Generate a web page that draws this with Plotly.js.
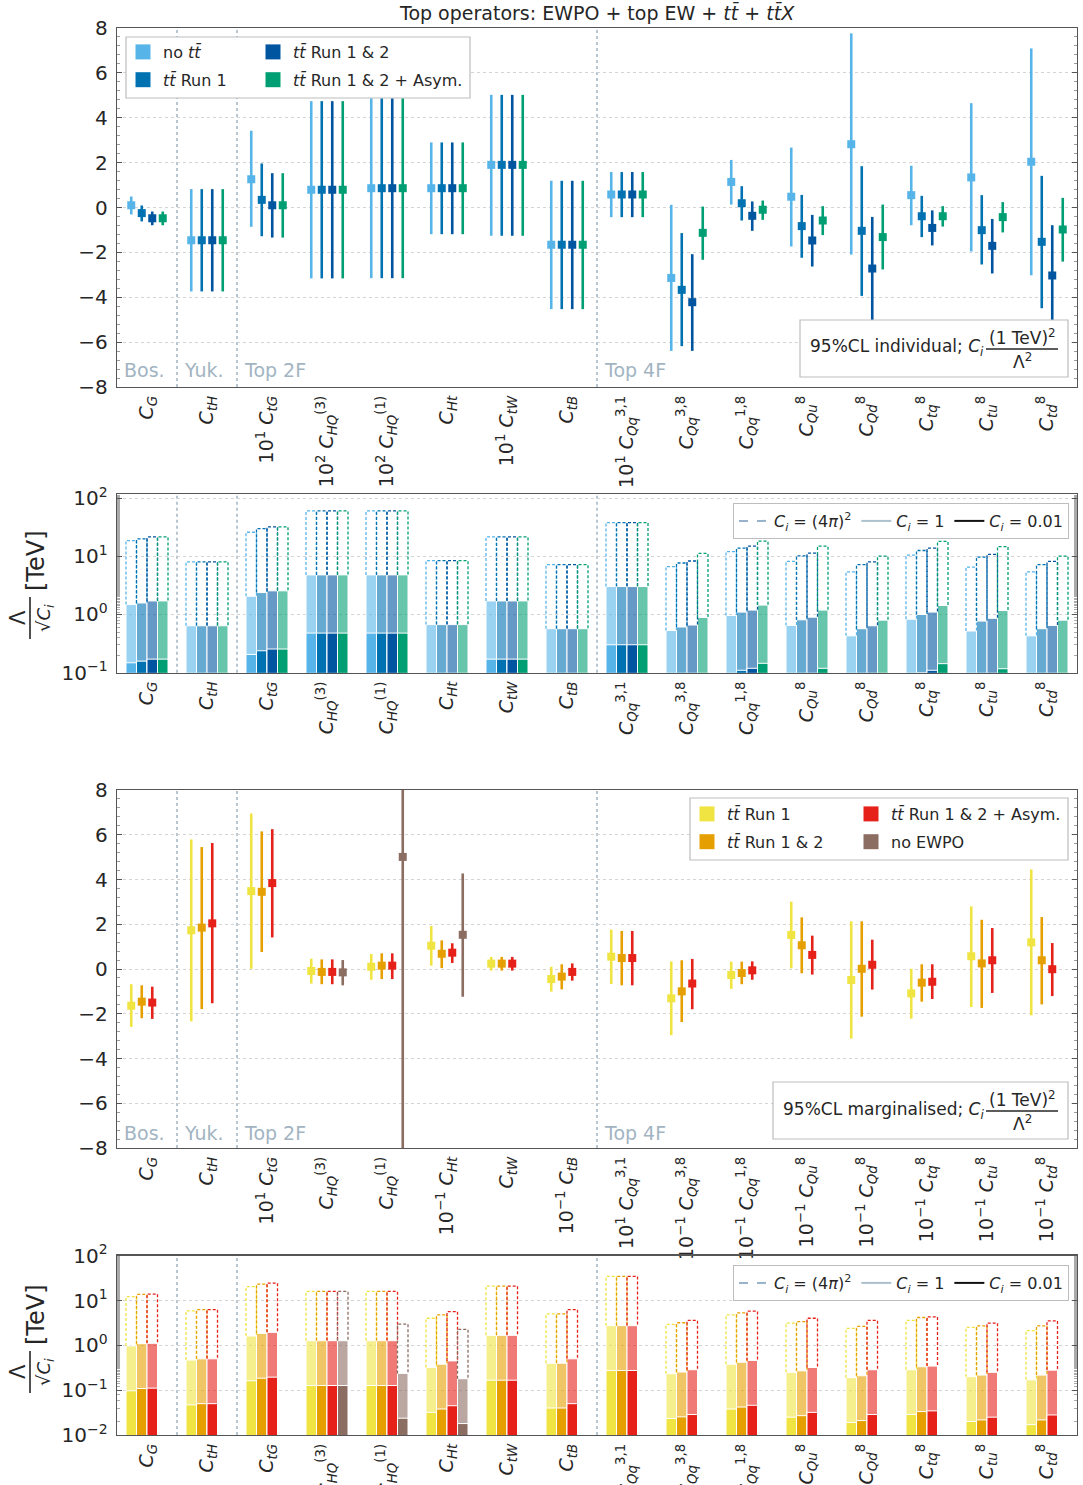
<!DOCTYPE html>
<html><head><meta charset="utf-8">
<script src="https://cdn.plot.ly/plotly-3.0.1.min.js"></script>
<style>html,body{margin:0;padding:0;background:#fff}</style>
</head><body><div id="chart" style="width:1083px;height:1485px"></div>
<script>
// ---------------- categories / tick labels ----------------
const ops = ['C_G','C_tH','C_tG','C_HQ3','C_HQ1','C_Ht','C_tW','C_tB','C_Qq31','C_Qq38','C_Qq18','C_Qu8','C_Qd8','C_tq8','C_tu8','C_td8'];
const baseLabels = [
  '<i>C</i><sub><i>G</i></sub>', '<i>C</i><sub><i>tH</i></sub>', '<i>C</i><sub><i>tG</i></sub>',
  '<i>C</i><sub><i>HQ</i></sub><sup>(3)</sup>', '<i>C</i><sub><i>HQ</i></sub><sup>(1)</sup>',
  '<i>C</i><sub><i>Ht</i></sub>', '<i>C</i><sub><i>tW</i></sub>', '<i>C</i><sub><i>tB</i></sub>',
  '<i>C</i><sub><i>Qq</i></sub><sup>3,1</sup>', '<i>C</i><sub><i>Qq</i></sub><sup>3,8</sup>',
  '<i>C</i><sub><i>Qq</i></sub><sup>1,8</sup>', '<i>C</i><sub><i>Qu</i></sub><sup>8</sup>',
  '<i>C</i><sub><i>Qd</i></sub><sup>8</sup>', '<i>C</i><sub><i>tq</i></sub><sup>8</sup>',
  '<i>C</i><sub><i>tu</i></sub><sup>8</sup>', '<i>C</i><sub><i>td</i></sub><sup>8</sup>'];
const prefixTop = ['', '', '10<sup>1</sup> ', '10<sup>2</sup> ', '10<sup>2</sup> ', '', '10<sup>1</sup> ', '', '10<sup>1</sup> ', '', '', '', '', '', '', ''];
const prefixMarg = ['', '', '10<sup>1</sup> ', '', '', '10<sup>−1</sup> ', '', '10<sup>−1</sup> ', '10<sup>1</sup> ', '10<sup>−1</sup> ', '10<sup>−1</sup> ', '10<sup>−1</sup> ', '10<sup>−1</sup> ', '10<sup>−1</sup> ', '10<sup>−1</sup> ', '10<sup>−1</sup> '];
const sectorNames = ['Bos.', 'Yuk.', 'Top 2F', 'Top 4F'];
const sectorStart = [0, 1, 2, 8];
const sectorBounds = [0.5, 1.5, 7.5];

// ---------------- panel 1: individual 95% CL ----------------
const indNoTtC  = [0.10, -1.46, 1.26, 0.79, 0.86, 0.86, 1.90, -1.66, 0.58, -3.14, 1.14, 0.48, 2.82, 0.55, 1.34, 2.04];
const indNoTtLo = [-0.31, -3.74, -0.86, -3.16, -3.15, -1.19, -1.26, -4.53, -0.43, -6.39, 0.13, -1.74, -2.10, -0.79, -1.96, -3.02];
const indNoTtHi = [0.49, 0.82, 3.42, 4.74, 4.87, 2.90, 5.02, 1.19, 1.58, 0.12, 2.12, 2.67, 7.76, 1.86, 4.65, 7.09];
const indRun1C  = [-0.25, -1.46, 0.34, 0.79, 0.86, 0.86, 1.90, -1.66, 0.58, -3.67, 0.19, -0.83, -1.04, -0.39, -1.01, -1.53];
const indRun1Lo = [-0.62, -3.74, -1.28, -3.16, -3.15, -1.19, -1.26, -4.53, -0.43, -6.18, -0.58, -2.24, -3.94, -1.32, -2.54, -4.49];
const indRun1Hi = [0.09, 0.82, 1.96, 4.74, 4.87, 2.90, 5.02, 1.19, 1.58, -1.14, 0.95, 0.56, 1.84, 0.52, 0.55, 1.41];
const indRun12C  = [-0.48, -1.46, 0.10, 0.79, 0.86, 0.86, 1.90, -1.66, 0.58, -4.22, -0.37, -1.47, -2.72, -0.91, -1.71, -3.03];
const indRun12Lo = [-0.79, -3.74, -1.34, -3.16, -3.15, -1.19, -1.26, -4.53, -0.43, -6.39, -1.04, -2.63, -5.02, -1.69, -2.94, -5.27];
const indRun12Hi = [-0.18, 0.82, 1.53, 4.74, 4.87, 2.90, 5.02, 1.19, 1.58, -2.08, 0.27, -0.33, -0.42, -0.13, -0.51, -0.79];
const indAsymC  = [-0.48, -1.46, 0.10, 0.79, 0.86, 0.86, 1.90, -1.66, 0.58, -1.13, -0.10, -0.58, -1.32, -0.39, -0.43, -0.98];
const indAsymLo = [-0.79, -3.74, -1.34, -3.16, -3.15, -1.19, -1.26, -4.53, -0.43, -2.33, -0.55, -1.23, -2.76, -0.85, -1.11, -2.41];
const indAsymHi = [-0.18, 0.82, 1.53, 4.74, 4.87, 2.90, 5.02, 1.19, 1.58, 0.04, 0.31, 0.06, 0.13, 0.06, 0.24, 0.43];

// ---------------- panel 2: individual scale, Lambda/sqrt(C) for C_i = 1 (TeV) ----------------
const scaleIndNoTt  = [1.48, 0.64, 2.06, 4.79, 4.79, 0.67, 1.71, 0.57, 3.02, 0.53, 0.96, 0.65, 0.43, 0.83, 0.52, 0.43];
const scaleIndRun1  = [1.58, 0.64, 2.38, 4.79, 4.79, 0.67, 1.71, 0.57, 3.02, 0.61, 1.10, 0.81, 0.57, 1.00, 0.77, 0.57];
const scaleIndRun12 = [1.71, 0.64, 2.55, 4.79, 4.79, 0.67, 1.71, 0.57, 3.02, 0.66, 1.19, 0.90, 0.64, 1.10, 0.86, 0.65];
const scaleIndAsym  = [1.71, 0.64, 2.55, 4.79, 4.79, 0.67, 1.71, 0.57, 3.02, 0.89, 1.45, 1.19, 0.80, 1.43, 1.17, 0.80];

// ---------------- panel 3: marginalised 95% CL ----------------
const marRun1C  = [-1.64, 1.73, 3.48, -0.09, 0.10, 1.04, 0.24, -0.45, 0.55, -1.31, -0.27, 1.52, -0.49, -1.09, 0.57, 1.19];
const marRun1Lo = [-2.59, -2.34, 0.01, -0.65, -0.48, 0.15, -0.07, -1.01, -0.67, -2.96, -0.89, 0.03, -3.11, -2.22, -1.70, -2.07];
const marRun1Hi = [-0.68, 5.79, 6.95, 0.46, 0.67, 1.92, 0.54, 0.10, 1.76, 0.34, 0.33, 3.01, 2.13, 0.01, 2.80, 4.45];
const marRun12C  = [-1.46, 1.85, 3.45, -0.13, 0.15, 0.68, 0.24, -0.34, 0.49, -1.00, -0.18, 1.06, 0.01, -0.61, 0.25, 0.39];
const marRun12Lo = [-2.20, -1.79, 0.76, -0.68, -0.45, 0.04, -0.07, -0.91, -0.73, -2.37, -0.68, -0.19, -2.13, -1.46, -1.74, -1.58];
const marRun12Hi = [-0.73, 5.45, 6.15, 0.43, 0.70, 1.28, 0.54, 0.21, 1.70, 0.39, 0.33, 2.31, 2.13, 0.21, 2.20, 2.32];
const marAsymC  = [-1.50, 2.04, 3.84, -0.13, 0.15, 0.73, 0.24, -0.13, 0.49, -0.65, -0.06, 0.63, 0.19, -0.57, 0.39, -0.01];
const marAsymLo = [-2.23, -1.53, 1.41, -0.68, -0.45, 0.27, -0.07, -0.52, -0.73, -1.80, -0.48, -0.25, -0.92, -1.34, -1.07, -1.21];
const marAsymHi = [-0.79, 5.63, 6.25, 0.43, 0.70, 1.15, 0.54, 0.25, 1.70, 0.45, 0.34, 1.49, 1.31, 0.21, 1.83, 1.16];
const marNoEwpoC  = [null, null, null, -0.15, 5.01, 1.53, null, null, null, null, null, null, null, null, null, null];
const marNoEwpoLo = [null, null, null, -0.73, -12.0, -1.24, null, null, null, null, null, null, null, null, null, null];
const marNoEwpoHi = [null, null, null, 0.40, 22.0, 4.27, null, null, null, null, null, null, null, null, null, null];

// ---------------- panel 4: marginalised scale, C_i = 1 (TeV) ----------------
const scaleMarRun1  = [0.97, 0.47, 1.62, 1.27, 1.27, 0.32, 1.67, 0.40, 2.75, 0.233, 0.38, 0.25, 0.19, 0.286, 0.20, 0.17];
const scaleMarRun12 = [1.09, 0.50, 1.85, 1.27, 1.27, 0.38, 1.67, 0.40, 2.75, 0.254, 0.42, 0.27, 0.21, 0.333, 0.217, 0.217];
const scaleMarAsym  = [1.11, 0.50, 1.95, 1.27, 1.27, 0.45, 1.67, 0.50, 2.75, 0.286, 0.46, 0.32, 0.286, 0.345, 0.25, 0.28];
const scaleMarNoEwpo = [null, null, null, 1.27, 0.237, 0.18, null, null, null, null, null, null, null, null, null, null];

// coupling values shown in the lower legends
const C_STRONG = Math.pow(4 * Math.PI, 2), C_UNIT = 1, C_WEAK = 0.01;

// ---------------- styling ----------------
const BLUES = ['#56B4E9', '#0072B2', '#0055A0', '#009E73'];
const WARMS = ['#F0E442', '#E69F00', '#E5211A', '#8C6D62'];
const OFF = [-0.2625, -0.0875, 0.0875, 0.2625];
const BARW = 0.175;
const FONT = 'DejaVu Sans, Liberation Sans, sans-serif';
const TXT = '#262626';
const W = 1083, H = 1485, ML = 117, MR = 6, PW = W - ML - MR;
const px = v => (v - ML) / PW;
const py = v => 1 - v / H;
const idx = ops.map((_, i) => i);

function rgba(hex, a) {
  const n = parseInt(hex.slice(1), 16);
  return `rgba(${(n >> 16) & 255},${(n >> 8) & 255},${n & 255},${a})`;
}

const traces = [];

function errTrace(c, lo, hi, color, k, xa, ya) {
  traces.push({
    type: 'scatter', mode: 'markers', xaxis: xa, yaxis: ya,
    x: idx.map(i => i + OFF[k]), y: c,
    error_y: { type: 'data', symmetric: false, width: 0, thickness: 2.6, color: color,
      array: hi.map((h, i) => h == null ? null : h - c[i]),
      arrayminus: lo.map((l, i) => l == null ? null : c[i] - l) },
    marker: { symbol: 'square', size: 8, color: color },
    showlegend: false, hoverinfo: 'skip'
  });
}
function legendSquare(name, color, legend, rank) {
  traces.push({ type: 'scatter', mode: 'markers', x: [null], y: [null], xaxis: 'x', yaxis: 'y',
    name: name, legend: legend, legendgroup: name, legendrank: rank,
    marker: { symbol: 'square', size: 15, color: color }, hoverinfo: 'skip' });
}
function levelBars(scale, color, k, xa, ya) {
  const x = idx.map(i => i + OFF[k]);
  // C_i = 1 level
  traces.push({ type: 'bar', xaxis: xa, yaxis: ya, x: x, width: BARW,
    y: scale.map(s => s == null ? null : s * Math.sqrt(C_UNIT)),
    marker: { color: rgba(color, 0.6), line: { color: 'white', width: 1 } },
    showlegend: false, hoverinfo: 'skip' });
  // C_i = 0.01 level
  traces.push({ type: 'bar', xaxis: xa, yaxis: ya, x: x, width: BARW,
    y: scale.map(s => s == null ? null : s * Math.sqrt(C_WEAK)),
    marker: { color: color, line: { color: 'white', width: 1 } },
    showlegend: false, hoverinfo: 'skip' });
  // C_i = (4 pi)^2 level : dashed outline
  const xs = [], ys = [];
  scale.forEach((s, i) => {
    if (s == null) return;
    const lo = s * Math.sqrt(C_UNIT), top = s * Math.sqrt(C_STRONG);
    const x0 = i + OFF[k] - BARW / 2, x1 = i + OFF[k] + BARW / 2;
    xs.push(x0, x0, x1, x1, null); ys.push(lo, top, top, lo, null);
  });
  traces.push({ type: 'scatter', mode: 'lines', xaxis: xa, yaxis: ya, x: xs, y: ys,
    line: { color: color, width: 1.3, dash: '3px,2px' }, showlegend: false, hoverinfo: 'skip' });
}
function couplingLegend(legend) {
  const items = [
    { name: '<i>C<sub>i</sub></i> = (4<i>π</i>)<sup>2</sup>', color: '#97b3cb', dash: 'dash' },
    { name: '<i>C<sub>i</sub></i> = 1', color: '#adc0cf', dash: 'solid' },
    { name: '<i>C<sub>i</sub></i> = 0.01', color: '#111111', dash: 'solid' }];
  items.forEach((it, r) => traces.push({ type: 'scatter', mode: 'lines', x: [null], y: [null],
    xaxis: 'x', yaxis: 'y', name: it.name, legend: legend, legendrank: r + 1,
    line: { color: it.color, width: 2, dash: it.dash }, hoverinfo: 'skip' }));
}

// panel 1
errTrace(indNoTtC, indNoTtLo, indNoTtHi, BLUES[0], 0, 'x', 'y');
errTrace(indRun1C, indRun1Lo, indRun1Hi, BLUES[1], 1, 'x', 'y');
errTrace(indRun12C, indRun12Lo, indRun12Hi, BLUES[2], 2, 'x', 'y');
errTrace(indAsymC, indAsymLo, indAsymHi, BLUES[3], 3, 'x', 'y');
const tt = '<i>tt̄</i>';
legendSquare('no ' + tt, BLUES[0], 'legend', 1);
legendSquare(tt + ' Run 1', BLUES[1], 'legend', 2);
legendSquare(tt + ' Run 1 & 2', BLUES[2], 'legend2', 1);
legendSquare(tt + ' Run 1 & 2 + Asym.', BLUES[3], 'legend2', 2);

// panel 2
levelBars(scaleIndNoTt, BLUES[0], 0, 'x2', 'y2');
levelBars(scaleIndRun1, BLUES[1], 1, 'x2', 'y2');
levelBars(scaleIndRun12, BLUES[2], 2, 'x2', 'y2');
levelBars(scaleIndAsym, BLUES[3], 3, 'x2', 'y2');
couplingLegend('legend3');

// panel 3
errTrace(marRun1C, marRun1Lo, marRun1Hi, WARMS[0], 0, 'x3', 'y3');
errTrace(marRun12C, marRun12Lo, marRun12Hi, WARMS[1], 1, 'x3', 'y3');
errTrace(marAsymC, marAsymLo, marAsymHi, WARMS[2], 2, 'x3', 'y3');
errTrace(marNoEwpoC, marNoEwpoLo, marNoEwpoHi, WARMS[3], 3, 'x3', 'y3');
legendSquare(tt + ' Run 1', WARMS[0], 'legend4', 1);
legendSquare(tt + ' Run 1 & 2', WARMS[1], 'legend4', 2);
legendSquare(tt + ' Run 1 & 2 + Asym.', WARMS[2], 'legend5', 1);
legendSquare('no EWPO', WARMS[3], 'legend5', 2);

// panel 4
levelBars(scaleMarRun1, WARMS[0], 0, 'x4', 'y4');
levelBars(scaleMarRun12, WARMS[1], 1, 'x4', 'y4');
levelBars(scaleMarAsym, WARMS[2], 2, 'x4', 'y4');
levelBars(scaleMarNoEwpo, WARMS[3], 3, 'x4', 'y4');
couplingLegend('legend6');

// ---------------- axes ----------------
function xAxis(anchor, labels) {
  return { anchor: anchor, range: [-0.5, 15.5], tickmode: 'array', tickvals: idx, ticktext: labels,
    tickangle: -90, ticks: '', showgrid: false, zeroline: false, showline: true, mirror: true,
    linecolor: '#555', linewidth: 1.3, tickfont: { size: 19, color: TXT, family: FONT }, fixedrange: true };
}
function linY(top, bottom) {
  return { domain: [py(bottom), py(top)], range: [-8, 8], tickmode: 'array', tickvals: [-8, -6, -4, -2, 0, 2, 4, 6, 8],
    ticks: 'inside', ticklen: 5, tickcolor: '#555', showline: true, mirror: 'ticks', linecolor: '#555', linewidth: 1.3,
    showgrid: true, gridcolor: '#d4d4d4', griddash: 'dot', gridwidth: 1, zeroline: false,
    minor: { ticks: 'inside', ticklen: 3, dtick: 0.4, tickcolor: '#999', showgrid: false },
    tickfont: { size: 20, color: TXT, family: FONT }, ticklabelstandoff: 4, fixedrange: true };
}
function logY(top, bottom, lo, hi, vals, texts) {
  return { domain: [py(bottom), py(top)], type: 'log', range: [lo, hi], tickmode: 'array', tickvals: vals, ticktext: texts,
    ticks: 'inside', ticklen: 5, tickcolor: '#555', showline: true, mirror: 'ticks', linecolor: '#555', linewidth: 1.3,
    showgrid: true, gridcolor: '#d4d4d4', griddash: 'dot', gridwidth: 1, zeroline: false,
    minor: { ticks: 'inside', ticklen: 3, tickcolor: '#aaa', showgrid: false },
    tickfont: { size: 20, color: TXT, family: FONT }, ticklabelstandoff: 4, fixedrange: true };
}
const topLabels = baseLabels.map((b, i) => prefixTop[i] + b);
const margLabels = baseLabels.map((b, i) => prefixMarg[i] + b);

// ---------------- shapes & annotations ----------------
const shapes = [], annotations = [];
[['x', 'y'], ['x2', 'y2'], ['x3', 'y3'], ['x4', 'y4']].forEach(([xa, ya]) => {
  sectorBounds.forEach(b => shapes.push({ type: 'line', xref: xa, yref: ya + ' domain', x0: b, x1: b, y0: 0, y1: 1,
    line: { color: '#a7b8c6', width: 1.6, dash: 'dot' }, layer: 'below' }));
});
[['x', 370], ['x3', 1133]].forEach(([xa, yc]) => {
  sectorNames.forEach((n, s) => annotations.push({ xref: xa, yref: 'paper', x: sectorStart[s] - 0.42, y: py(yc),
    xanchor: 'left', yanchor: 'middle', showarrow: false, text: n, font: { size: 19, color: '#a2b4c2', family: FONT } }));
});
function box(x0, y0, x1, y1) {
  shapes.push({ type: 'rect', xref: 'paper', yref: 'paper', x0: px(x0), x1: px(x1), y0: py(y1), y1: py(y0),
    fillcolor: 'white', line: { color: '#bdbdbd', width: 1.2 }, layer: 'above' });
}
box(126, 37, 470, 98);
box(690, 798, 1068, 860);
function clBox(x0, y0, x1, y1, label, tx, ty, fx, fy, fx0, fx1) {
  box(x0, y0, x1, y1);
  annotations.push({ xref: 'paper', yref: 'paper', x: px(tx), y: py(ty), xanchor: 'left', yanchor: 'middle', showarrow: false,
    text: label + '; <i>C<sub>i</sub></i>', font: { size: 17, color: TXT, family: FONT } });
  annotations.push({ xref: 'paper', yref: 'paper', x: px(fx), y: py(fy - 12), xanchor: 'center', yanchor: 'middle', showarrow: false,
    text: '(1 TeV)<sup>2</sup>', font: { size: 17, color: TXT, family: FONT } });
  annotations.push({ xref: 'paper', yref: 'paper', x: px(fx), y: py(fy + 12), xanchor: 'center', yanchor: 'middle', showarrow: false,
    text: 'Λ<sup>2</sup>', font: { size: 17, color: TXT, family: FONT } });
  shapes.push({ type: 'line', xref: 'paper', yref: 'paper', x0: px(fx0), x1: px(fx1), y0: py(fy), y1: py(fy),
    line: { color: TXT, width: 1.3 }, layer: 'above' });
}
clBox(800, 320, 1068, 377, '95%CL individual', 808, 348, 1022, 349, 986, 1058);
clBox(773, 1082, 1068, 1139, '95%CL marginalised', 781, 1110, 1022, 1111, 986, 1058);

function lambdaTitle(yT, yF) {
  annotations.push({ xref: 'paper', yref: 'paper', x: px(36), y: py(yT), textangle: -90, showarrow: false,
    xanchor: 'center', yanchor: 'middle', text: '[TeV]', font: { size: 24, color: TXT, family: FONT } });
  annotations.push({ xref: 'paper', yref: 'paper', x: px(18), y: py(yF), textangle: -90, showarrow: false,
    xanchor: 'center', yanchor: 'middle', text: 'Λ', font: { size: 21, color: TXT, family: FONT } });
  annotations.push({ xref: 'paper', yref: 'paper', x: px(45), y: py(yF), textangle: -90, showarrow: false,
    xanchor: 'center', yanchor: 'middle', text: '√<i>C<sub>i</sub></i>', font: { size: 18, color: TXT, family: FONT } });
  shapes.push({ type: 'line', xref: 'paper', yref: 'paper', x0: px(30), x1: px(30), y0: py(yF - 21), y1: py(yF + 21),
    line: { color: TXT, width: 1.6 }, layer: 'above' });
}
lambdaTitle(561, 618);
lambdaTitle(1315, 1372);

annotations.push({ xref: 'paper', yref: 'paper', x: px(597), y: py(12), showarrow: false, xanchor: 'center', yanchor: 'middle',
  text: 'Top operators: EWPO + top EW + <i>tt̄</i> + <i>tt̄X</i>', font: { size: 19, color: TXT, family: FONT } });

// ---------------- legends ----------------
function colLegend(xl, ytop) {
  return { x: px(xl), y: py(ytop), xanchor: 'left', yanchor: 'top', orientation: 'v', bgcolor: 'rgba(0,0,0,0)',
    borderwidth: 0, font: { size: 16, color: TXT, family: FONT }, traceorder: 'grouped', tracegroupgap: 4 };
}
function rowLegend(xl, ytop) {
  return { x: px(xl), y: py(ytop), xanchor: 'left', yanchor: 'top', orientation: 'h', bgcolor: 'white',
    bordercolor: '#bdbdbd', borderwidth: 1, font: { size: 16, color: TXT, family: FONT }, traceorder: 'normal' };
}

const layout = {
  width: W, height: H, margin: { l: ML, r: MR, t: 0, b: 0, pad: 0 },
  paper_bgcolor: 'white', plot_bgcolor: 'white', barmode: 'overlay', showlegend: true,
  font: { family: FONT, color: TXT },
  xaxis: xAxis('y', topLabels), yaxis: linY(28, 387),
  xaxis2: xAxis('y2', baseLabels), yaxis2: logY(494, 672.7, -1, 2.07, [0.1, 1, 10, 100],
    ['10<sup>−1</sup>', '10<sup>0</sup>', '10<sup>1</sup>', '10<sup>2</sup>']),
  xaxis3: xAxis('y3', margLabels), yaxis3: linY(790, 1148),
  xaxis4: xAxis('y4', baseLabels), yaxis4: logY(1255.7, 1435, -2, 2, [0.01, 0.1, 1, 10, 100],
    ['10<sup>−2</sup>', '10<sup>−1</sup>', '10<sup>0</sup>', '10<sup>1</sup>', '10<sup>2</sup>']),
  legend: colLegend(123, 35), legend2: colLegend(253, 35),
  legend3: rowLegend(733, 503),
  legend4: colLegend(687, 797), legend5: colLegend(851, 797),
  legend6: rowLegend(733, 1265),
  shapes: shapes, annotations: annotations
};

Plotly.newPlot('chart', traces, layout, { staticPlot: true, displayModeBar: false });
</script>
</body></html>
